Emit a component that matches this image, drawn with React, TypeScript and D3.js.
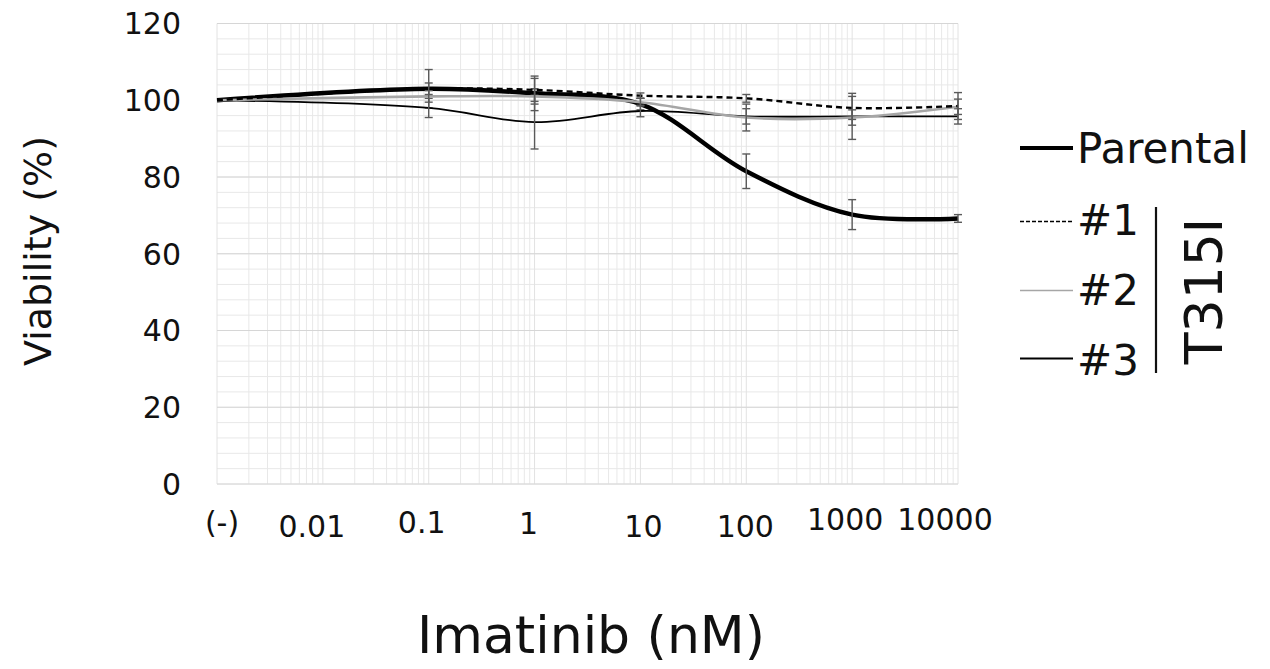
import React from "react";
import * as d3 from "d3";

const doses = [0.001, 0.1, 1, 10, 100, 1000, 10000];
const tickValues = [0.001, 0.01, 0.1, 1, 10, 100, 1000, 10000];
const tickLabels = ["(-)", "0.01", "0.1", "1", "10", "100", "1000", "10000"];
const yTicks = [0, 20, 40, 60, 80, 100, 120];

const parental = [100, 103, 101.8, 99, 81.5, 70.2, 69.2];
const parentalErr = [0, 5, 4.5, 1.5, 4.5, 3.9, 1.0];
const t1 = [100, 103, 102.7, 101.2, 100.5, 98, 98.5];
const t1Err = [0, 1.5, 3, 0.7, 1, 3, 3.5];
const t2 = [100, 101, 101, 99.5, 95.5, 95.5, 98.3];
const t2Err = [0, 1.5, 2, 1, 3.5, 2, 2];
const t3 = [100, 98, 94.3, 97.2, 95.8, 95.8, 95.8];
const t3Err = [0, 2.5, 7, 1.5, 2, 6, 2];

const FONT = "'DejaVu Sans', sans-serif";

export default function App() {
  const W = 1270, H = 669;
  const x = d3.scaleLog().domain([0.001, 10000]).range([217, 958]);
  const y = d3.scaleLinear().domain([0, 120]).range([484, 23.5]);

  const styles: Record<string, { stroke: string; width: number; dash?: string }> = {
    Parental: { stroke: "#000", width: 4.5 },
    "#1": { stroke: "#000", width: 2.4, dash: "6,4" },
    "#2": { stroke: "#a6a6a6", width: 2.6 },
    "#3": { stroke: "#000", width: 1.8 },
  };
  const data: Record<string, { v: number[]; e: number[] }> = {
    Parental: { v: parental, e: parentalErr },
    "#1": { v: t1, e: t1Err },
    "#2": { v: t2, e: t2Err },
    "#3": { v: t3, e: t3Err },
  };
  const drawOrder = ["Parental", "#3", "#2", "#1"];

  const line = d3
    .line<[number, number]>()
    .x((d) => x(d[0]))
    .y((d) => y(d[1]))
    .curve(d3.curveCatmullRom.alpha(0.5));

  const minorX: number[] = [];
  for (let e = -3; e < 4; e++) {
    const base = Math.pow(10, e);
    for (let k = 2; k <= 9; k++) minorX.push(base * k);
  }
  const majorX = tickValues;
  const minorY = d3.range(0, 121, 4);

  const labelDx = [5, -11, -7, -6, 3, -1, -7, -13];
  const labelDy = [533, 537, 533, 534, 537, 537, 530, 530];

  const [x0, x1] = x.range();
  const [y0, y1] = y.range();

  const legendItems = [
    { name: "Parental", ly: 148, ty: 163 },
    { name: "#1", ly: 221.5, ty: 235 },
    { name: "#2", ly: 290.5, ty: 305 },
    { name: "#3", ly: 358.5, ty: 375 },
  ];

  return (
    <svg
      width={W}
      height={H}
      style={{ position: "absolute", left: 0, top: 0, background: "#fff" }}
      fontFamily={FONT}
    >
      <rect width={W} height={H} fill="#fff" />
      <g>
        {minorY.map((v) => (
          <line key={"my" + v} x1={x0} x2={x1} y1={y(v)} y2={y(v)} stroke="#e8e8e8" strokeWidth={1} />
        ))}
        {minorX.map((v, i) => (
          <line key={"mx" + i} x1={x(v)} x2={x(v)} y1={y0} y2={y1} stroke="#e8e8e8" strokeWidth={1} />
        ))}
        {majorX.map((v) => (
          <line key={"Mx" + v} x1={x(v)} x2={x(v)} y1={y0} y2={y1} stroke="#e2e2e2" strokeWidth={1} />
        ))}
        {yTicks.map((v) => (
          <line key={"My" + v} x1={x0} x2={x1} y1={y(v)} y2={y(v)} stroke="#d6d6d6" strokeWidth={1} />
        ))}
      </g>

      {yTicks.map((v) => (
        <text key={"yt" + v} x={181} y={y(v)} dy="0.36em" textAnchor="end" fontSize={30} fill="#111">
          {v}
        </text>
      ))}
      {tickValues.map((v, i) => (
        <text key={"xt" + i} x={x(v) + labelDx[i]} y={labelDy[i]} textAnchor="middle" fontSize={30} fill="#111">
          {tickLabels[i]}
        </text>
      ))}

      <text transform="translate(51,251) rotate(-90)" textAnchor="middle" fontSize={38} fill="#111">
        Viability (%)
      </text>
      <text x={591} y={653} textAnchor="middle" fontSize={52} fill="#111">
        Imatinib (nM)
      </text>

      {drawOrder.map((name) => {
        const s = styles[name];
        const d = data[name];
        const pts: [number, number][] = doses.map((dv, i) => [dv, d.v[i]]);
        return (
          <g key={name}>
            <path d={line(pts) || ""} fill="none" stroke={s.stroke} strokeWidth={s.width} strokeDasharray={s.dash} />
            {doses.map((dv, i) =>
              d.e[i] > 0 ? (
                <g key={i} stroke="#5a5a5a" strokeWidth={1.4}>
                  <line x1={x(dv)} x2={x(dv)} y1={y(d.v[i] - d.e[i])} y2={y(d.v[i] + d.e[i])} />
                  <line x1={x(dv) - 4} x2={x(dv) + 4} y1={y(d.v[i] - d.e[i])} y2={y(d.v[i] - d.e[i])} />
                  <line x1={x(dv) - 4} x2={x(dv) + 4} y1={y(d.v[i] + d.e[i])} y2={y(d.v[i] + d.e[i])} />
                </g>
              ) : null
            )}
          </g>
        );
      })}

      {legendItems.map((it) => {
        const s = styles[it.name];
        return (
          <g key={"lg" + it.name}>
            <line
              x1={1020}
              x2={1073}
              y1={it.ly}
              y2={it.ly}
              stroke={s.stroke}
              strokeWidth={it.name === "Parental" ? 4 : s.width === 1.8 ? 1.8 : 1.6}
              strokeDasharray={s.dash ? "4,2" : undefined}
            />
            <text x={1077} y={it.ty} fontSize={42} fill="#111">
              {it.name}
            </text>
          </g>
        );
      })}
      <line x1={1156} x2={1156} y1={207} y2={373} stroke="#111" strokeWidth={2.2} />
      <text transform="translate(1222,291) rotate(-90)" textAnchor="middle" fontSize={52} fill="#111">
        T315I
      </text>
    </svg>
  );
}
